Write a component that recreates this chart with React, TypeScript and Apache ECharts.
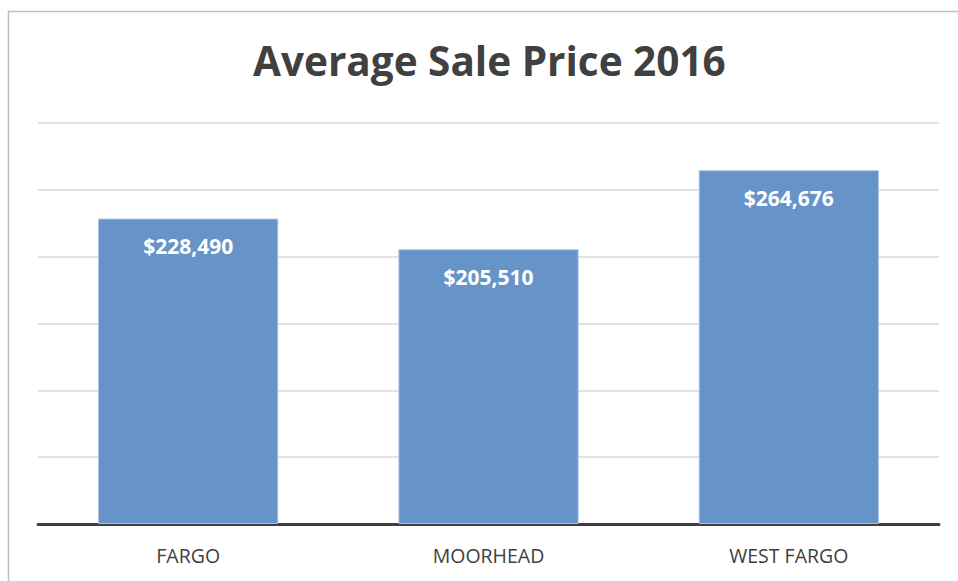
import React, { useEffect, useRef } from "react";
import * as echarts from "echarts";

const titleText = "Average Sale Price 2016";
const categories = ["FARGO", "MOORHEAD", "WEST FARGO"];
const values = [228490, 205510, 264676];
const yMin = 0;
const yMax = 300000;
const yInterval = 50000;

export default function App() {
  const ref = useRef<HTMLDivElement>(null);
  useEffect(() => {
    if (!ref.current) return;
    const chart = echarts.init(ref.current, null, { renderer: "svg" });
    chart.setOption({
      animation: false,
      backgroundColor: "#ffffff",
      title: {
        text: titleText,
        left: 248,
        top: 35,
        textStyle: {
          fontFamily: "Open Sans",
          fontWeight: "bold",
          fontSize: 40.5,
          color: "#404040",
        },
      },
      graphic: [
        {
          type: "rect",
          shape: { x: 8.5, y: 11.5, width: 1000, height: 1000 },
          style: { fill: "none", stroke: "#bfbfbf", lineWidth: 1.5 },
          silent: true,
        },
      ],
      grid: { left: 38, right: 19, top: 123, bottom: 57, containLabel: false },
      xAxis: {
        type: "category",
        data: categories,
        axisLine: { show: true, lineStyle: { color: "#404040", width: 3 } },
        axisTick: { show: false },
        axisLabel: {
          color: "#404040",
          fontFamily: "Open Sans",
          fontSize: 19.5,
          margin: 21,
        },
      },
      yAxis: {
        type: "value",
        min: yMin,
        max: yMax,
        interval: yInterval,
        axisLabel: { show: false },
        axisLine: { show: false },
        axisTick: { show: false },
        splitLine: { lineStyle: { color: "#d9d9d9", width: 1.5 } },
      },
      series: [
        {
          type: "bar",
          data: values,
          barCategoryGap: "40%",
          itemStyle: {
            color: "#6794c8",
            borderColor: "#a9c1e0",
            borderWidth: 1,
          },
          label: {
            show: true,
            position: "insideTop",
            distance: 17,
            color: "#ffffff",
            fontFamily: "Open Sans",
            fontWeight: "bold",
            fontSize: 21,
            formatter: (p: any) => "$" + Number(p.value).toLocaleString("en-US"),
          },
        },
      ],
    });
    return () => chart.dispose();
  }, []);
  return (
    <div
      ref={ref}
      style={{ position: "fixed", left: 0, top: 0, width: 958, height: 581 }}
    />
  );
}
